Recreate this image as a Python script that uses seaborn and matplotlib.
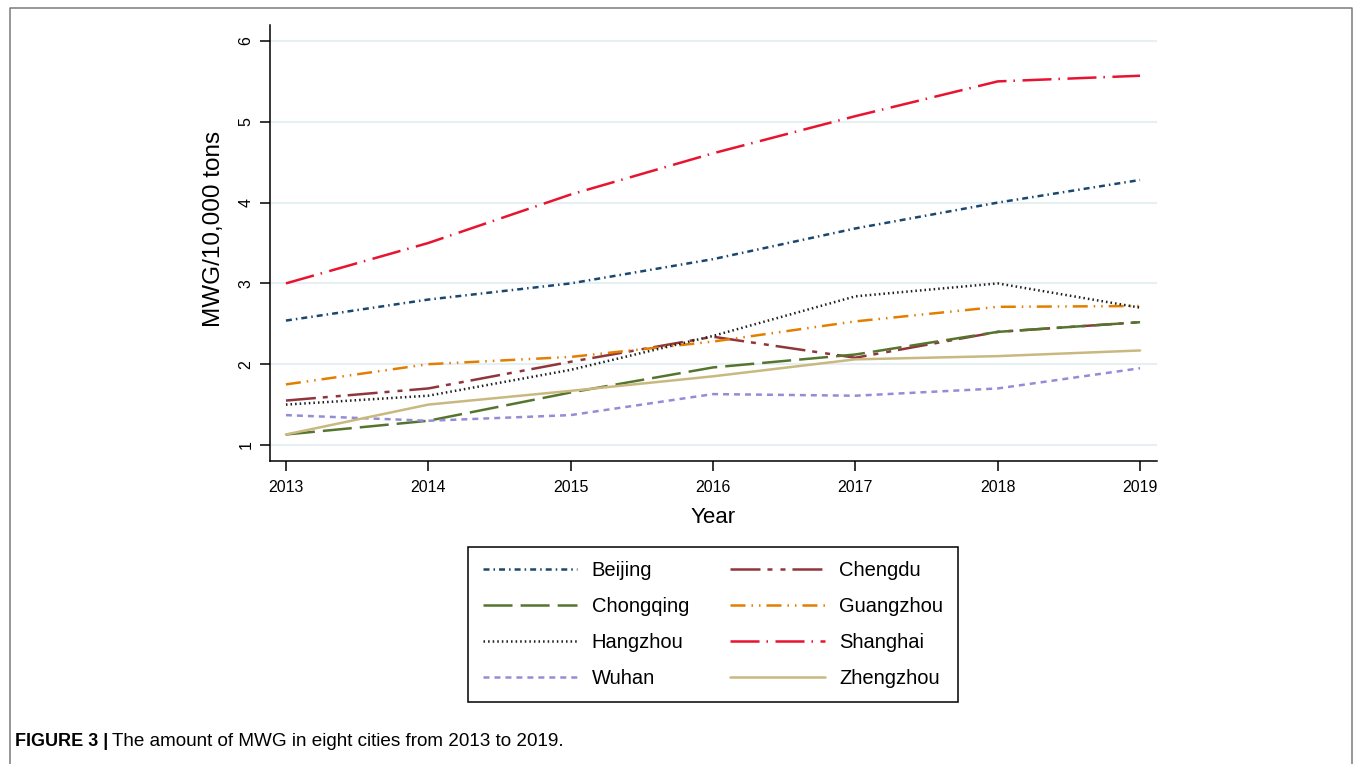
import matplotlib
matplotlib.use("Agg")
import matplotlib.pyplot as plt
from matplotlib.lines import Line2D
import pandas as pd
import seaborn as sns

# ---- data (MWG, 10,000 tons) ----
years = [2013, 2014, 2015, 2016, 2017, 2018, 2019]
cities = ["Beijing", "Chengdu", "Chongqing", "Guangzhou",
          "Hangzhou", "Shanghai", "Wuhan", "Zhengzhou"]
beijing = [2.54, 2.80, 3.00, 3.30, 3.68, 4.00, 4.28]
chengdu = [1.55, 1.70, 2.03, 2.34, 2.08, 2.40, 2.52]
chongqing = [1.13, 1.30, 1.65, 1.96, 2.12, 2.40, 2.52]
guangzhou = [1.75, 2.00, 2.09, 2.28, 2.53, 2.71, 2.72]
hangzhou = [1.50, 1.61, 1.93, 2.35, 2.84, 3.00, 2.70]
shanghai = [3.00, 3.50, 4.10, 4.61, 5.07, 5.50, 5.57]
wuhan = [1.37, 1.30, 1.37, 1.63, 1.61, 1.70, 1.95]
zhengzhou = [1.13, 1.50, 1.67, 1.85, 2.06, 2.10, 2.17]
yticks = [1, 2, 3, 4, 5, 6]

series = dict(zip(cities, [beijing, chengdu, chongqing, guangzhou,
                           hangzhou, shanghai, wuhan, zhengzhou]))
df = pd.DataFrame([
    {"Year": y, "MWG": v, "City": c}
    for c in cities for y, v in zip(years, series[c])
])

# ---- styling ----
palette = {
    "Beijing": "#1A476F", "Chengdu": "#90353B", "Chongqing": "#55752F",
    "Guangzhou": "#E37E00", "Hangzhou": "#1E1E1E", "Shanghai": "#E8132F",
    "Wuhan": "#948DD6", "Zhengzhou": "#C9B880",
}
# dash patterns in points (unscaled)
dashes = {
    "Beijing": (4.3, 2.9, 1.1, 2.9),
    "Chengdu": (21.6, 5.0, 3.6, 5.8, 3.6, 5.0),
    "Chongqing": (20.9, 5.8),
    "Guangzhou": (10.8, 4.3, 1.1, 4.3, 1.1, 4.3),
    "Hangzhou": (1.1, 2.2),
    "Shanghai": (20.9, 5.0, 1.1, 5.4),
    "Wuhan": (4.3, 3.6),
    "Zhengzhou": "",
}

sns.set_style("white")
plt.rcParams["font.family"] = ["Liberation Sans", "DejaVu Sans"]
plt.rcParams["lines.scale_dashes"] = False
for key in ("text.color", "axes.labelcolor", "xtick.color", "ytick.color"):
    plt.rcParams[key] = "black"

W, H = 1357, 764
fig = plt.figure(figsize=(W / 100, H / 100), dpi=100)
ax = fig.add_axes([270 / W, 1 - 461 / H, (1157 - 270) / W, (461 - 25) / H])

sns.lineplot(data=df, x="Year", y="MWG", hue="City", style="City",
             hue_order=cities, style_order=cities, palette=palette,
             dashes=dashes, linewidth=1.8, legend=False, ax=ax)
for ln in ax.lines:
    ln.set_dash_capstyle("butt")

ax.set_xlim(2012.888, 2019.119)
ax.set_ylim(0.802, 6.198)
ax.set_xticks(years)
ax.set_yticks(yticks)
ax.set_xticklabels([str(y) for y in years])
ax.set_yticklabels([str(t) for t in yticks], rotation=90, va="center")

ax.set_axisbelow(True)
ax.yaxis.grid(True, color="#E6EFF1", linewidth=1.5)
ax.xaxis.grid(False)
for side in ("top", "right"):
    ax.spines[side].set_visible(False)
for side in ("left", "bottom"):
    ax.spines[side].set_color("black")
    ax.spines[side].set_linewidth(1.1)

ax.tick_params(axis="both", which="major", direction="out", length=7,
               width=1.1, color="black", labelsize=11.5, pad=5,
               bottom=True, left=True)
ax.tick_params(axis="x", pad=7)
ax.set_xlabel("Year", fontsize=16, labelpad=8)
ax.set_ylabel("MWG/10,000 tons", fontsize=17.5)
ax.yaxis.set_label_coords(-0.0505, 0.532)

# legend: two columns, read row by row
handles = {}
for city, ln in zip(cities, ax.lines):
    h = Line2D([], [])
    h.update_from(ln)
    handles[city] = h
order = ["Beijing", "Chongqing", "Hangzhou", "Wuhan",
         "Chengdu", "Guangzhou", "Shanghai", "Zhengzhou"]
leg = fig.legend([handles[c] for c in order], order, ncol=2,
                 loc="center", bbox_to_anchor=(713 / W, 1 - 624.5 / H),
                 bbox_transform=fig.transFigure, fontsize=14.5,
                 handlelength=4.7, handletextpad=0.72, columnspacing=2.05,
                 labelspacing=0.84, borderpad=0.7, fancybox=False,
                 framealpha=1, edgecolor="black")
leg.get_frame().set_linewidth(1.1)

# caption: bold label, then the description right after it
renderer = fig.canvas.get_renderer()
cap_y = 1 - 742 / H
lead = fig.text(15 / W, cap_y, "FIGURE 3 |", va="center", ha="left",
                fontsize=13, fontweight="bold")
lead_end = lead.get_window_extent(renderer).x1
body = fig.text((lead_end + 4) / W, cap_y,
                "The amount of MWG in eight cities from 2013 to 2019.",
                va="center", ha="left", fontsize=14)
body_w = body.get_window_extent(renderer).width
body.set_fontsize(14 * (567 - lead_end - 4) / body_w)

# outer frame (open at the bottom)
fig.add_artist(Line2D([10 / W, 10 / W, 1352 / W, 1352 / W],
                      [0, 1 - 8 / H, 1 - 8 / H, 0],
                      transform=fig.transFigure, color="#7A7A7A",
                      linewidth=1.1))

fig.savefig("out.png", dpi=100)
